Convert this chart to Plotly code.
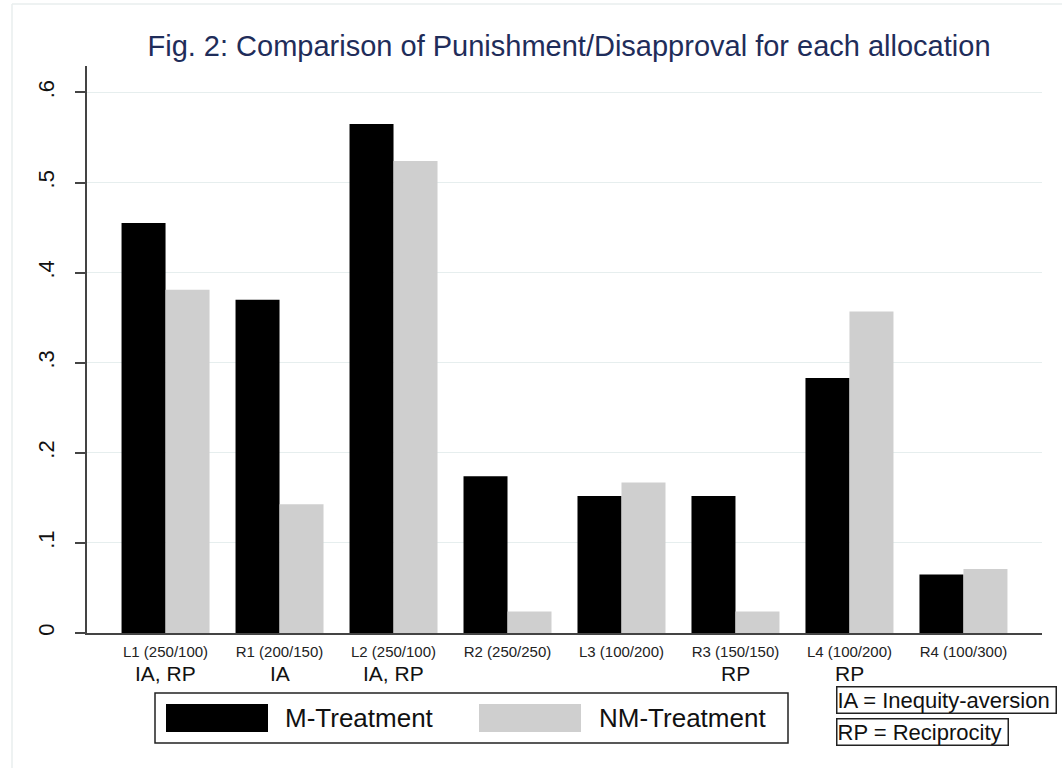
import plotly.graph_objects as go

# Allocations shown on the x axis, with the motive each one tests
allocations = ["L1 (250/100)", "R1 (200/150)", "L2 (250/100)", "R2 (250/250)",
               "L3 (100/200)", "R3 (150/150)", "L4 (100/200)", "R4 (100/300)"]
motives = ["IA, RP", "IA", "IA, RP", "", "", "RP", "RP", ""]

# Share of punishment / disapproval per treatment
m_treatment = [0.455, 0.370, 0.565, 0.174, 0.152, 0.152, 0.283, 0.065]
nm_treatment = [0.381, 0.143, 0.524, 0.024, 0.167, 0.024, 0.357, 0.071]

series_names = ["M-Treatment", "NM-Treatment"]
y_ticks = [0, 0.1, 0.2, 0.3, 0.4, 0.5, 0.6]
y_tick_labels = ["0", ".1", ".2", ".3", ".4", ".5", ".6"]
key_notes = ["IA = Inequity-aversion", "RP = Reciprocity"]

FONT = "Liberation Sans, Arial, Helvetica, sans-serif"
COLORS = ["#000000", "#cfcfcf"]

W, H = 1062, 768
L, R, T, B = 87, 20, 66, 135


def px_x(px):
    """Horizontal pixel -> paper coordinate."""
    return (px - L) / (W - L - R)


def px_y(py):
    """Vertical pixel (from top) -> paper coordinate."""
    return (H - B - py) / (H - T - B)


x_idx = list(range(len(allocations)))

fig = go.Figure()
for name, vals, col in zip(series_names, [m_treatment, nm_treatment], COLORS):
    fig.add_trace(go.Bar(x=x_idx, y=vals, name=name, marker=dict(color=col, line=dict(width=0)),
                         showlegend=False))

fig.update_layout(
    width=W, height=H,
    margin=dict(l=L, r=R, t=T, b=B),
    paper_bgcolor="white", plot_bgcolor="white",
    barmode="group", bargap=0.228, bargroupgap=0,
    font=dict(family=FONT, color="black"),
    title=dict(text="Fig. 2: Comparison of Punishment/Disapproval for each allocation",
               x=px_x(569), xref="paper", xanchor="center",
               y=1 - 46 / H, yanchor="middle",
               font=dict(size=29, color="#1f2d5a", family=FONT)),
)

fig.update_xaxes(
    range=[-0.689, 7.689], tickmode="array", tickvals=x_idx, ticktext=allocations,
    tickfont=dict(size=15, color="#222222"), ticks="", showgrid=False, zeroline=False,
    showline=True, linecolor="#444444", linewidth=1.5, ticklabelstandoff=4,
)
fig.update_yaxes(
    range=[0, 0.6294], tickmode="array", tickvals=y_ticks, ticktext=y_tick_labels,
    tickangle=-90, tickfont=dict(size=22, color="#111111"),
    ticks="outside", ticklen=10, tickwidth=1.5, tickcolor="#444444",
    ticklabelstandoff=12,
    showgrid=True, gridcolor="#e6eeee", gridwidth=1, zeroline=False,
    showline=True, linecolor="#444444", linewidth=1.5,
)

# Motive labels under each allocation
for i, mot in enumerate(motives):
    if mot:
        fig.add_annotation(x=i, xref="x", y=px_y(673), yref="paper", text=mot,
                           showarrow=False, xanchor="center", yanchor="middle",
                           font=dict(size=21, color="#111111", family=FONT))

# Faint outline of the graph region (left and top edges)
shapes = [
    dict(type="line", xref="paper", yref="paper", x0=px_x(12), x1=px_x(12),
         y0=px_y(4), y1=px_y(768), line=dict(color="#e9eeee", width=1.5)),
    dict(type="line", xref="paper", yref="paper", x0=px_x(12), x1=px_x(1062),
         y0=px_y(4), y1=px_y(4), line=dict(color="#e9eeee", width=1.5)),
]

# Legend box drawn as shapes
shapes.append(dict(type="rect", xref="paper", yref="paper",
                   x0=px_x(155), x1=px_x(788), y0=px_y(743), y1=px_y(693),
                   line=dict(color="#222222", width=1.5), fillcolor="white"))
swatch_x = [166, 479]
text_x = [283, 597]
for sx, tx, name, col in zip(swatch_x, text_x, series_names, COLORS):
    shapes.append(dict(type="rect", xref="paper", yref="paper",
                       x0=px_x(sx), x1=px_x(sx + 102), y0=px_y(732), y1=px_y(704),
                       line=dict(width=0), fillcolor=col))
    fig.add_annotation(x=px_x(tx), xref="paper", y=px_y(718), yref="paper", text=name,
                       showarrow=False, xanchor="left", yanchor="middle",
                       font=dict(size=26, color="#111111", family=FONT))

# Key for the motive abbreviations
for note, cy in zip(key_notes, [700, 731.5]):
    fig.add_annotation(x=px_x(836), xref="paper", y=px_y(cy), yref="paper", text=note + " ",
                       showarrow=False, xanchor="left", yanchor="middle",
                       bordercolor="#222222", borderwidth=1.5, borderpad=0,
                       bgcolor="white",
                       font=dict(size=22, color="#111111", family=FONT))

fig.update_layout(shapes=shapes)
fig.write_html("out.html")
